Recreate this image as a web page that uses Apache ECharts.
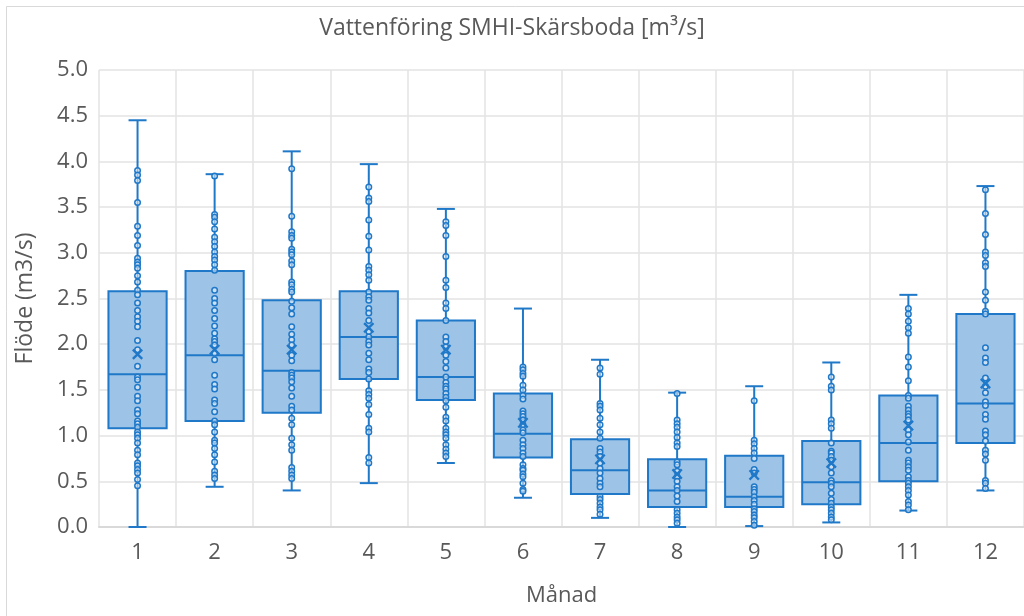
<!DOCTYPE html>
<html>
<head>
<meta charset="utf-8">
<script src="https://cdn.jsdelivr.net/npm/echarts@6/dist/echarts.min.js"></script>
<style>
html,body{margin:0;padding:0;background:#fff;}
#chart{width:1024px;height:616px;}
</style>
</head>
<body>
<div id="chart"></div>
<script>
const months = ['1','2','3','4','5','6','7','8','9','10','11','12'];
const yTicks = [0,0.5,1,1.5,2,2.5,3,3.5,4,4.5,5];

// Box statistics per month
const mins    = [0.00,0.44,0.40,0.48,0.70,0.32,0.10,0.00,0.01,0.05,0.18,0.40];
const q1s     = [1.08,1.16,1.25,1.62,1.39,0.76,0.36,0.22,0.22,0.25,0.50,0.92];
const medians = [1.67,1.88,1.71,2.08,1.64,1.02,0.62,0.40,0.33,0.49,0.92,1.35];
const q3s     = [2.58,2.80,2.48,2.58,2.26,1.46,0.96,0.74,0.78,0.94,1.44,2.33];
const maxs    = [4.45,3.86,4.11,3.97,3.48,2.39,1.83,1.47,1.54,1.80,2.54,3.73];
const means   = [1.89,1.94,1.94,2.18,1.94,1.14,0.74,0.58,0.57,0.70,1.11,1.57];

// Individual observations per month
const m1 = [3.90,3.85,3.79,3.55,3.29,3.19,3.08,2.94,2.90,2.87,2.83,2.75,2.68,2.59,2.54,2.45,2.37,2.30,2.25,2.19,2.04,1.94,1.76,1.64,1.61,1.53,1.43,1.38,1.28,1.24,1.16,1.13,1.09,1.04,1.01,0.97,0.92,0.84,0.79,0.70,0.67,0.63,0.59,0.52,0.45];
const m2 = [3.84,3.42,3.39,3.34,3.26,3.17,3.12,3.07,3.01,2.96,2.92,2.87,2.81,2.59,2.50,2.45,2.37,2.28,2.20,2.12,2.06,2.03,1.99,1.90,1.83,1.66,1.56,1.51,1.39,1.35,1.26,1.16,1.12,1.04,0.95,0.92,0.86,0.79,0.71,0.61,0.57,0.53];
const m3 = [3.92,3.40,3.23,3.19,3.16,3.04,3.01,2.98,2.91,2.87,2.68,2.65,2.60,2.57,2.47,2.40,2.33,2.19,2.11,2.05,1.99,1.88,1.82,1.69,1.66,1.63,1.59,1.52,1.43,1.32,1.28,1.19,1.12,0.97,0.90,0.84,0.65,0.61,0.57,0.53];
const m4 = [3.72,3.60,3.56,3.36,3.18,3.03,2.85,2.81,2.76,2.70,2.57,2.52,2.48,2.39,2.34,2.26,2.14,2.08,2.03,1.99,1.90,1.83,1.73,1.69,1.62,1.49,1.45,1.41,1.34,1.23,1.08,1.04,0.76,0.70];
const m5 = [3.34,3.30,3.19,2.96,2.70,2.62,2.45,2.39,2.26,2.08,2.03,1.97,1.88,1.81,1.74,1.64,1.58,1.54,1.51,1.46,1.42,1.38,1.31,1.20,1.16,1.08,1.04,1.01,0.97,0.90,0.85,0.81,0.77];
const m6 = [1.75,1.72,1.68,1.65,1.55,1.50,1.44,1.40,1.27,1.24,1.21,1.17,1.12,1.06,1.03,0.95,0.90,0.86,0.81,0.77,0.68,0.64,0.62,0.58,0.55,0.48,0.41,0.39];
const m7 = [1.74,1.67,1.35,1.32,1.28,1.19,1.12,1.04,0.97,0.86,0.82,0.77,0.70,0.64,0.59,0.53,0.48,0.44,0.33,0.30,0.26,0.22,0.19,0.14];
const m8 = [1.46,1.17,1.13,1.09,1.04,0.98,0.92,0.88,0.71,0.68,0.61,0.55,0.50,0.44,0.40,0.34,0.28,0.19,0.15,0.11,0.08,0.04];
const m9 = [1.38,0.95,0.91,0.86,0.81,0.75,0.63,0.59,0.44,0.41,0.38,0.33,0.29,0.25,0.20,0.17,0.13,0.10,0.06,0.02];
const m10 = [1.64,1.54,1.50,1.17,1.13,1.08,0.92,0.83,0.81,0.77,0.73,0.66,0.59,0.51,0.48,0.44,0.37,0.30,0.26,0.22,0.19,0.15,0.11,0.08];
const m11 = [2.39,2.33,2.25,2.18,2.12,1.86,1.75,1.60,1.44,1.41,1.32,1.28,1.24,1.21,1.17,1.06,1.01,0.93,0.84,0.73,0.70,0.66,0.62,0.55,0.51,0.48,0.44,0.40,0.35,0.28,0.24,0.19];
const m12 = [3.69,3.43,3.20,3.01,2.97,2.89,2.85,2.57,2.48,2.36,2.33,1.96,1.85,1.80,1.63,1.54,1.47,1.37,1.33,1.23,1.18,1.05,1.01,0.94,0.84,0.80,0.73,0.51,0.48,0.42];

const monthPoints = [m1,m2,m3,m4,m5,m6,m7,m8,m9,m10,m11,m12];

const BLUE = '#1f78c8';
const FILL = '#9dc3e6';
const TEXT = '#595959';
const FONT = 'Open Sans';

const boxData = months.map((m,i)=>[i, mins[i], q1s[i], medians[i], q3s[i], maxs[i]]);
const pointData = [];
monthPoints.forEach((arr,i)=>arr.forEach(v=>pointData.push([i,v])));
const meanData = means.map((v,i)=>[i,v]);

const chart = echarts.init(document.getElementById('chart'));
chart.setOption({
  animation:false,
  backgroundColor:'#fff',
  title:{
    text:'Vattenföring SMHI-Skärsboda [m³/s]',
    left:'center', top:12,
    textStyle:{fontFamily:FONT, fontSize:23, fontWeight:'normal', color:TEXT}
  },
  graphic:[{type:'rect', shape:{x:6.5,y:6.5,width:1100,height:700}, style:{fill:'none', stroke:'#d9d9d9', lineWidth:1}, silent:true, z:-10}],
  grid:{left:99, right:-4, top:70, bottom:89, containLabel:false},
  xAxis:{
    type:'category', data:months, boundaryGap:true,
    name:'Månad', nameLocation:'middle', nameGap:58,
    nameTextStyle:{fontFamily:FONT, fontSize:22, color:TEXT},
    axisLine:{show:true, lineStyle:{color:'#d9d9d9', width:2}},
    axisTick:{show:false},
    axisLabel:{fontFamily:FONT, fontSize:22, color:TEXT, margin:15},
    splitLine:{show:true, lineStyle:{color:'#e3e3e3', width:1.5}}
  },
  yAxis:{
    type:'value', min:yTicks[0], max:yTicks[yTicks.length-1], interval:0.5,
    name:'Flöde (m3/s)', nameLocation:'middle', nameGap:62, nameRotate:90,
    nameTextStyle:{fontFamily:FONT, fontSize:23, color:TEXT},
    axisLine:{show:false}, axisTick:{show:false},
    axisLabel:{fontFamily:FONT, fontSize:22, color:TEXT, margin:11, formatter:v=>v.toFixed(1)},
    splitLine:{show:true, lineStyle:{color:'#e3e3e3', width:1.5}}
  },
  series:[
    {
      type:'custom',
      data:boxData,
      encode:{x:0, y:[1,2,3,4,5]},
      z:2,
      renderItem:function(params, api){
        const idx = api.value(0);
        const band = api.size([1,0])[0];
        const bw = band*0.755;
        const cap = 18;
        const pMin = api.coord([idx, api.value(1)]);
        const pQ1 = api.coord([idx, api.value(2)]);
        const pMed = api.coord([idx, api.value(3)]);
        const pQ3 = api.coord([idx, api.value(4)]);
        const pMax = api.coord([idx, api.value(5)]);
        const x = pMin[0];
        const ls = {stroke:BLUE, lineWidth:2};
        return {type:'group', children:[
          {type:'line', shape:{x1:x,y1:pMin[1],x2:x,y2:pQ1[1]}, style:ls},
          {type:'line', shape:{x1:x,y1:pQ3[1],x2:x,y2:pMax[1]}, style:ls},
          {type:'line', shape:{x1:x-cap/2,y1:pMin[1],x2:x+cap/2,y2:pMin[1]}, style:ls},
          {type:'line', shape:{x1:x-cap/2,y1:pMax[1],x2:x+cap/2,y2:pMax[1]}, style:ls},
          {type:'rect', shape:{x:x-bw/2, y:pQ3[1], width:bw, height:pQ1[1]-pQ3[1]}, style:{fill:FILL, stroke:BLUE, lineWidth:2}},
          {type:'line', shape:{x1:x-bw/2,y1:pMed[1],x2:x+bw/2,y2:pMed[1]}, style:ls}
        ]};
      }
    },
    {
      type:'scatter', data:pointData, z:3,
      symbol:'circle', symbolSize:5.5,
      itemStyle:{color:'rgba(255,255,255,0.5)', borderColor:BLUE, borderWidth:1.5, opacity:1}
    },
    {
      type:'scatter', data:meanData, z:4,
      symbol:'path://M0,1.5 L1.5,0 L5,3.5 L8.5,0 L10,1.5 L6.5,5 L10,8.5 L8.5,10 L5,6.5 L1.5,10 L0,8.5 L3.5,5 Z',
      symbolSize:11,
      itemStyle:{color:BLUE, opacity:1}
    }
  ]
});
</script>
</body>
</html>
